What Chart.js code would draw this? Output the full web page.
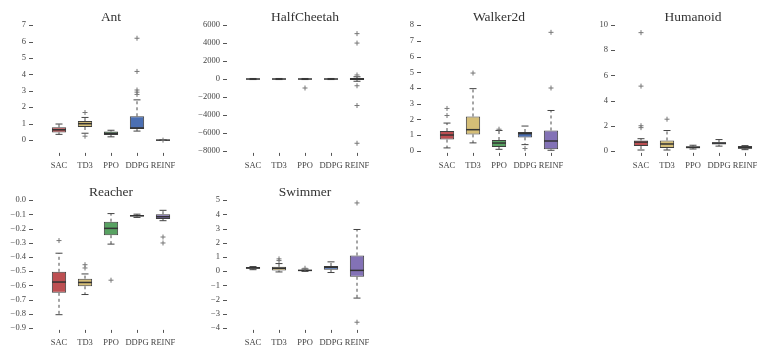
<!DOCTYPE html>
<html>
<head>
<meta charset="utf-8">
<script src="https://cdn.jsdelivr.net/npm/chart.js@4.4.0/dist/chart.umd.min.js"></script>
<style>
  html, body { margin: 0; padding: 0; background: #fff; overflow: hidden; }
  #wrap { position: relative; width: 761px; height: 353px; overflow: hidden; }
  canvas { position: absolute; }
</style>
</head>
<body>
<div id="wrap">
  <canvas id="ant" width="192" height="176" style="left:-4px;top:0px"></canvas>
  <canvas id="cheetah" width="192" height="176" style="left:190px;top:0px"></canvas>
  <canvas id="walker" width="192" height="176" style="left:384px;top:0px"></canvas>
  <canvas id="humanoid" width="192" height="176" style="left:578px;top:0px"></canvas>
  <canvas id="reacher" width="192" height="178" style="left:-4px;top:175px"></canvas>
  <canvas id="swimmer" width="192" height="178" style="left:190px;top:175px"></canvas>
</div>
<script>
const algos = ["SAC", "TD3", "PPO", "DDPG", "REINF"];
const boxColors = ["#bd4f52", "#d5be77", "#58a262", "#4b6fb3", "#8372b6"];

// Ant
const antLow = [0.35, 0.42, 0.2, 0.55, -0.01];
const antQ1 = [0.47, 0.8, 0.31, 0.68, -0.01];
const antMed = [0.63, 1.0, 0.41, 0.74, 0.0];
const antQ3 = [0.78, 1.16, 0.52, 1.45, 0.01];
const antHigh = [0.98, 1.38, 0.6, 2.45, 0.01];
const antOut = [[], [1.68, 0.24], [], [2.78, 2.92, 3.05, 4.18, 6.2], [0.0]];
const antTicks = [0, 1, 2, 3, 4, 5, 6, 7];

// HalfCheetah
const cheetahLow = [-60, -60, -60, -60, -250];
const cheetahQ1 = [-30, -30, -30, -30, -100];
const cheetahMed = [0, 0, 0, 0, 0];
const cheetahQ3 = [30, 30, 30, 30, 100];
const cheetahHigh = [60, 60, 60, 60, 250];
const cheetahOut = [[], [], [-1000], [], [5050, 4000, 450, -750, -2950, -7150]];
const cheetahTicks = [-8000, -6000, -4000, -2000, 0, 2000, 4000, 6000];

// Walker2d
const walkerLow = [0.19, 0.51, 0.1, 0.4, 0.04];
const walkerQ1 = [0.72, 1.05, 0.25, 0.86, 0.1];
const walkerMed = [1.01, 1.35, 0.5, 1.1, 0.63];
const walkerQ3 = [1.26, 2.19, 0.69, 1.2, 1.3];
const walkerHigh = [1.77, 3.96, 1.3, 1.58, 2.57];
const walkerOut = [[2.25, 2.7], [4.95], [1.38], [0.15], [4.0, 7.54]];
const walkerTicks = [0, 1, 2, 3, 4, 5, 6, 7, 8];

// Humanoid
const humanoidLow = [0.07, 0.07, 0.15, 0.38, 0.1];
const humanoidQ1 = [0.38, 0.24, 0.22, 0.5, 0.18];
const humanoidMed = [0.7, 0.55, 0.28, 0.62, 0.25];
const humanoidQ3 = [0.83, 0.83, 0.36, 0.68, 0.38];
const humanoidHigh = [0.97, 1.62, 0.45, 0.9, 0.42];
const humanoidOut = [[1.85, 2.0, 5.15, 9.4], [2.52], [], [], []];
const humanoidTicks = [0, 2, 4, 6, 8, 10];

// Reacher
const reacherLow = [-0.807, -0.665, -0.31, -0.122, -0.145];
const reacherQ1 = [-0.653, -0.607, -0.247, -0.115, -0.133];
const reacherMed = [-0.577, -0.58, -0.199, -0.11, -0.117];
const reacherQ3 = [-0.505, -0.553, -0.152, -0.106, -0.099];
const reacherHigh = [-0.374, -0.52, -0.095, -0.099, -0.072];
const reacherOut = [[-0.285], [-0.455, -0.478], [-0.564], [], [-0.26, -0.302]];
const reacherTicks = [-0.9, -0.8, -0.7, -0.6, -0.5, -0.4, -0.3, -0.2, -0.1, 0.0];

// Swimmer
const swimmerLow = [0.1, -0.06, -0.02, -0.1, -1.9];
const swimmerQ1 = [0.16, 0.04, 0.02, 0.1, -0.4];
const swimmerMed = [0.22, 0.2, 0.05, 0.27, 0.05];
const swimmerQ3 = [0.28, 0.3, 0.1, 0.36, 1.1];
const swimmerHigh = [0.32, 0.53, 0.15, 0.65, 2.93];
const swimmerOut = [[], [0.74, 0.86], [0.2], [], [4.8, -3.6]];
const swimmerTicks = [-4, -3, -2, -1, 0, 1, 2, 3, 4, 5];

const serif = "'Liberation Serif', 'Times New Roman', serif";

// little offset tick marks, like the despined seaborn axes
const tickMarks = {
  id: "tickMarks",
  afterDraw(chart) {
    const { ctx, chartArea, scales } = chart;
    ctx.save();
    ctx.strokeStyle = "#555";
    ctx.lineWidth = 1;
    ctx.beginPath();
    scales.y.ticks.forEach((t) => {
      const y = Math.round(scales.y.getPixelForValue(t.value)) + 0.5;
      ctx.moveTo(chartArea.left - 17, y);
      ctx.lineTo(chartArea.left - 13, y);
    });
    scales.x.ticks.forEach((t, i) => {
      const x = Math.round(scales.x.getPixelForTick(i)) + 0.5;
      ctx.moveTo(x, chartArea.bottom + 2);
      ctx.lineTo(x, chartArea.bottom + 5);
    });
    ctx.stroke();
    ctx.restore();
  },
};

function fmt(v, d) {
  return (v < -1e-9 ? "\u2212" : "") + Math.abs(v).toFixed(d);
}

function boxChart(id, title, low, q1, med, q3, high, out, ticks, yMin, yMax, dec) {
  const whiskers = [];
  const caps = [];
  const medians = [];
  const outliers = [];
  algos.forEach((a, i) => {
    whiskers.push({ x: a, y: q3[i] }, { x: a, y: high[i] }, { x: a, y: null });
    whiskers.push({ x: a, y: q1[i] }, { x: a, y: low[i] }, { x: a, y: null });
    caps.push({ x: a, y: low[i] }, { x: a, y: high[i] });
    medians.push({ x: a, y: med[i] });
    out[i].forEach((v) => outliers.push({ x: a, y: v }));
  });

  new Chart(document.getElementById(id), {
    type: "bar",
    data: {
      labels: algos,
      datasets: [
        {
          type: "line",
          data: whiskers,
          borderColor: "#4a4a4a",
          borderWidth: 1,
          borderDash: [3, 3],
          pointRadius: 0,
          spanGaps: false,
          clip: false,
          order: 4,
        },
        {
          data: algos.map((a, i) => [q1[i], q3[i]]),
          backgroundColor: boxColors,
          borderColor: "#3f3f3f",
          borderWidth: 1,
          borderSkipped: false,
          barPercentage: 0.55,
          categoryPercentage: 1,
          order: 3,
        },
        {
          type: "line",
          data: caps,
          showLine: false,
          pointStyle: "line",
          pointRadius: 3.5,
          borderColor: "#444",
          borderWidth: 1,
          clip: false,
          order: 2,
        },
        {
          type: "line",
          data: medians,
          showLine: false,
          pointStyle: "line",
          pointRadius: 7,
          borderColor: "#333",
          borderWidth: 1.5,
          clip: false,
          order: 1,
        },
        {
          type: "line",
          data: outliers,
          showLine: false,
          pointStyle: "cross",
          pointRadius: 2.5,
          borderColor: "#777",
          borderWidth: 1,
          clip: false,
          order: 0,
        },
      ],
    },
    options: {
      responsive: false,
      animation: false,
      events: [],
      layout: { padding: { left: 0, right: 12, top: 0, bottom: 0 } },
      plugins: {
        legend: { display: false },
        tooltip: { enabled: false },
        title: {
          display: true,
          text: title,
          fullSize: false,
          color: "#333",
          font: { family: serif, size: 13.5, weight: "normal", lineHeight: "15px" },
          padding: { top: 1, bottom: 0 },
        },
      },
      scales: {
        x: {
          type: "category",
          offset: true,
          grid: { display: false, drawTicks: false, tickLength: 0 },
          border: { display: false },
          ticks: {
            color: "#444",
            font: { family: serif, size: 8.5 },
            padding: 10,
            maxRotation: 0,
            autoSkip: false,
          },
          afterFit: (scale) => { scale.height = 20; },
        },
        y: {
          min: yMin,
          max: yMax,
          grid: { display: false, drawTicks: false, tickLength: 0 },
          border: { display: false },
          ticks: {
            color: "#444",
            font: { family: serif, size: 8.5 },
            padding: 20,
            callback: (v) => fmt(v, dec),
          },
          afterBuildTicks: (scale) => { scale.ticks = ticks.map((v) => ({ value: v })); },
          afterFit: (scale) => { scale.width = 50; },
        },
      },
    },
    plugins: [tickMarks],
  });
}

boxChart("ant", "Ant", antLow, antQ1, antMed, antQ3, antHigh, antOut, antTicks, -0.656, 7, 0);
boxChart("cheetah", "HalfCheetah", cheetahLow, cheetahQ1, cheetahMed, cheetahQ3, cheetahHigh, cheetahOut, cheetahTicks, -8000, 6000, 0);
boxChart("walker", "Walker2d", walkerLow, walkerQ1, walkerMed, walkerQ3, walkerHigh, walkerOut, walkerTicks, 0, 8, 0);
boxChart("humanoid", "Humanoid", humanoidLow, humanoidQ1, humanoidMed, humanoidQ3, humanoidHigh, humanoidOut, humanoidTicks, 0, 10, 0);
boxChart("reacher", "Reacher", reacherLow, reacherQ1, reacherMed, reacherQ3, reacherHigh, reacherOut, reacherTicks, -0.9, 0, 1);
boxChart("swimmer", "Swimmer", swimmerLow, swimmerQ1, swimmerMed, swimmerQ3, swimmerHigh, swimmerOut, swimmerTicks, -4, 5, 0);
</script>
</body>
</html>
